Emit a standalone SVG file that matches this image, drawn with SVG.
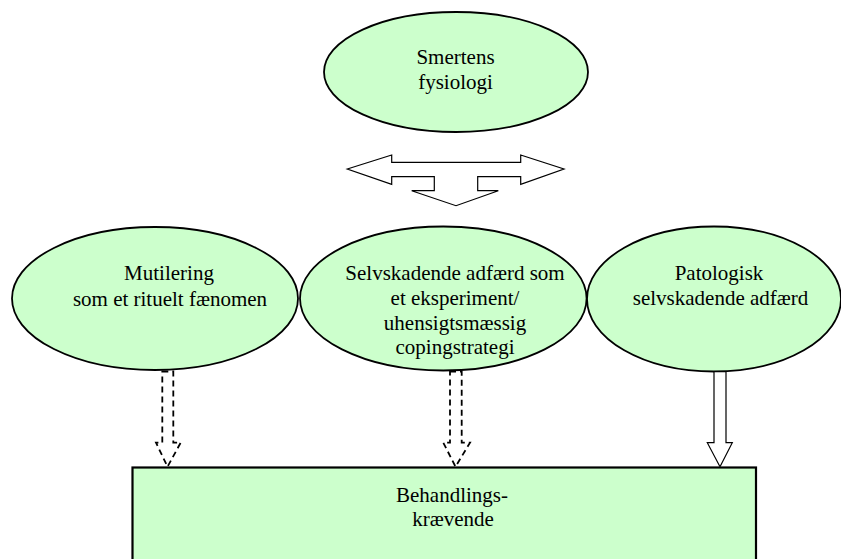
<svg xmlns="http://www.w3.org/2000/svg" width="841" height="559" viewBox="0 0 841 559">
<style>
.node{fill:#CCFFCC;stroke:#000;stroke-width:1.8}
.lbl{font-family:'Liberation Serif','Times New Roman','DejaVu Serif',serif;font-size:21px;fill:#000;text-anchor:middle}
.arr{fill:#fff;stroke:#000;stroke-width:1.2;stroke-linejoin:miter}
.dash{fill:none;stroke:#000;stroke-width:1.8;stroke-dasharray:6 4}
</style>
<rect width="841" height="559" fill="#fff"/>
<g id="smertens">
<ellipse class="node" cx="456" cy="72" rx="132" ry="60"/>
<text class="lbl" x="455.5" y="64" font-family="Liberation Serif, DejaVu Serif, serif">Smertens</text>
<text class="lbl" x="455.5" y="89" font-family="Liberation Serif, DejaVu Serif, serif">fysiologi</text>
</g>
<g id="mutilering">
<ellipse class="node" cx="155" cy="298.5" rx="143" ry="71.5"/>
<text class="lbl" x="169" y="280">Mutilering</text>
<text class="lbl" x="170" y="305.5">som et rituelt fænomen</text>
</g>
<g id="selvskadende">
<ellipse class="node" cx="443.3" cy="298.5" rx="143.3" ry="72"/>
<text class="lbl" x="455" y="280">Selvskadende adfærd som</text>
<text class="lbl" x="455" y="305">et eksperiment/</text>
<text class="lbl" x="455" y="330">uhensigtsmæssig</text>
<text class="lbl" x="455" y="354">copingstrategi</text>
</g>
<g id="patologisk">
<ellipse class="node" cx="714" cy="299" rx="127" ry="72.5"/>
<text class="lbl" x="719" y="280">Patologisk</text>
<text class="lbl" x="720.5" y="305">selvskadende adfærd</text>
</g>
<g id="behandling">
<rect x="132.5" y="467.5" width="623.5" height="110" fill="#CCFFCC" stroke="#000" stroke-width="2.2"/>
<text class="lbl" x="452" y="502">Behandlings-</text>
<text class="lbl" x="453" y="526">krævende</text>
</g>
<g id="connectors">
<polygon class="arr" points="347.3,169 391.7,155 391.7,162.3 520.7,162.3 520.7,155 564,169 520.7,184.3 520.7,176.7 477.7,176.7 477.7,190.7 498.3,190.7 456,205.7 411.7,190.7 434.3,190.7 434.3,176.7 391.7,176.7 391.7,184.3"/>
<polygon class="dash" points="162.3,371.5 173.3,371.5 173.3,442.7 180.7,442.7 167.5,466.7 156,442.7 162.3,442.7"/>
<polygon class="dash" points="450,371.5 461.7,371.5 461.7,442.7 470,442.7 455.5,466.7 443.3,442.7 450,442.7"/>
<polygon class="arr" stroke-width="1.6" points="714,371.7 726,371.7 726,442.7 732.3,442.7 720,466.7 707.3,442.7 714,442.7"/>
</g>
</svg>
